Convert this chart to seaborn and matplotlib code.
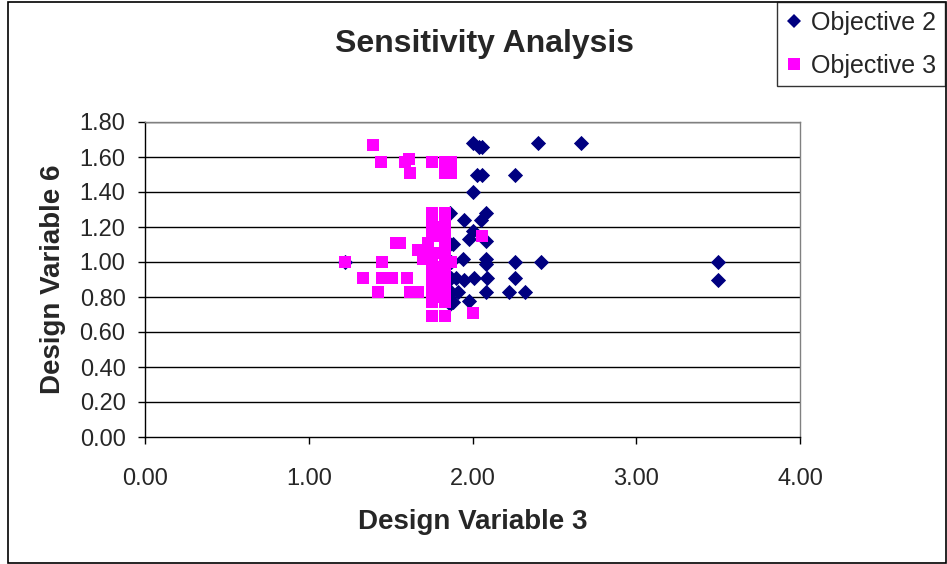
import matplotlib
matplotlib.use("Agg")
import matplotlib.pyplot as plt
import seaborn as sns
import pandas as pd
from matplotlib.patches import Rectangle
from matplotlib.lines import Line2D

# Objective 2 (navy diamonds)
obj2_x = [2.00, 2.04, 2.06, 2.40, 2.66, 2.03, 2.06, 2.26, 2.00, 2.08, 1.95, 2.05,
          2.00, 1.98, 2.08, 1.88, 1.94, 2.08, 2.08, 2.26, 2.42, 1.90, 1.95, 2.01,
          2.09, 2.26, 1.91, 2.08, 2.22, 2.32, 1.98, 1.88, 3.50, 3.50, 1.22, 1.86,
          1.86, 1.87, 1.87, 1.87, 1.86]
obj2_y = [1.68, 1.66, 1.66, 1.68, 1.68, 1.50, 1.50, 1.50, 1.40, 1.28, 1.24, 1.24,
          1.18, 1.13, 1.12, 1.10, 1.02, 1.02, 0.99, 1.00, 1.00, 0.91, 0.90, 0.91,
          0.91, 0.91, 0.83, 0.83, 0.83, 0.83, 0.78, 0.77, 1.00, 0.90, 1.00, 1.28,
          1.10, 1.00, 0.91, 0.83, 0.76]

# Objective 3 (magenta squares)
obj3_x = [1.39, 1.44, 1.61, 1.59, 1.62, 1.75, 1.83, 1.87, 1.83, 1.87,
          1.75, 1.83, 1.75, 1.83, 1.75, 1.83, 2.06, 1.56, 1.73, 1.67, 1.72, 1.83,
          1.70, 1.75, 1.83, 1.87, 1.22, 1.45, 1.33, 1.45, 1.51, 1.60, 1.75, 1.83,
          1.42, 1.62, 1.67, 1.75, 1.83, 1.75, 1.83, 1.75, 1.83, 2.00,
          1.78, 1.78, 1.78, 1.78, 1.80, 1.80, 1.80, 1.80, 1.53,
          1.75, 1.75, 1.75, 1.83, 1.83, 1.83]
obj3_y = [1.67, 1.57, 1.59, 1.57, 1.51, 1.57, 1.57, 1.57, 1.51, 1.51,
          1.28, 1.28, 1.24, 1.23, 1.17, 1.17, 1.15, 1.11, 1.11, 1.07, 1.07, 1.11,
          1.02, 1.02, 1.01, 1.00, 1.00, 1.00, 0.91, 0.91, 0.91, 0.91, 0.90, 0.90,
          0.83, 0.83, 0.83, 0.82, 0.82, 0.77, 0.77, 0.69, 0.69, 0.71,
          1.20, 1.05, 0.95, 0.86, 1.15, 0.97, 0.88, 0.80, 1.11,
          1.05, 0.95, 0.86, 1.05, 0.95, 0.86]

series_names = ["Objective 2", "Objective 3"]
x_ticks = [0.0, 1.0, 2.0, 3.0, 4.0]
y_ticks = [0.0, 0.2, 0.4, 0.6, 0.8, 1.0, 1.2, 1.4, 1.6, 1.8]

df2 = pd.DataFrame({"x": obj2_x, "y": obj2_y})
df3 = pd.DataFrame({"x": obj3_x, "y": obj3_y})

sns.set_style("white")
plt.rcParams["font.family"] = ["Liberation Sans", "DejaVu Sans"]

fig = plt.figure(figsize=(9.47, 5.64), dpi=100)
ax = fig.add_axes([145/947, 1-437/564, (800-145)/947, (437-122)/564])

navy = "#000080"
magenta = "#FF00FF"

sns.scatterplot(data=df2, x="x", y="y", ax=ax, marker="D", s=60, color=navy,
                linewidth=0, zorder=3)
sns.scatterplot(data=df3, x="x", y="y", ax=ax, marker="s", s=82, color=magenta,
                linewidth=0, zorder=4)

ax.set_xlim(0, 4)
ax.set_ylim(0, 1.8)
ax.set_xticks(x_ticks)
ax.set_yticks(y_ticks)
ax.set_xticklabels([f"{v:.2f}" for v in x_ticks])
ax.set_yticklabels([f"{v:.2f}" for v in y_ticks])
ax.tick_params(axis="both", labelsize=17, direction="out", length=5, width=1,
               color="black", left=True, bottom=True)
ax.tick_params(axis="y", pad=9)
ax.tick_params(axis="x", pad=17)
for v in y_ticks[1:]:
    ax.axhline(v, color="black", linewidth=1, zorder=1)

for s in ["top", "right"]:
    ax.spines[s].set_color("#808080")
    ax.spines[s].set_linewidth(1)
for s in ["left", "bottom"]:
    ax.spines[s].set_color("black")
    ax.spines[s].set_linewidth(1)

ax.set_xlabel("Design Variable 3", fontsize=20, fontweight="bold", labelpad=14)
ax.set_ylabel("Design Variable 6", fontsize=20, fontweight="bold", labelpad=10)

fig.text(484/947, 1-44/564, "Sensitivity Analysis", fontsize=23, fontweight="bold",
         ha="center", va="center")

handles = [Line2D([], [], linestyle="none", marker="D", markersize=7, color=navy,
                  markeredgewidth=0),
           Line2D([], [], linestyle="none", marker="s", markersize=8, color=magenta,
                  markeredgewidth=0)]
leg = fig.legend(handles, series_names, loc="upper right",
                 bbox_to_anchor=(945/947, 1-2/564), fontsize=18, frameon=True,
                 fancybox=False, edgecolor="black", handlelength=0.6,
                 handletextpad=0.4, borderpad=0.35, labelspacing=0.75,
                 borderaxespad=0)
leg.get_frame().set_linewidth(1)

fig.patches.append(Rectangle((8/947, 1/564), (946-8)/947, (562-1)/564,
                             transform=fig.transFigure, fill=False,
                             edgecolor="black", linewidth=1.2))

fig.savefig("out.png", dpi=100, facecolor="white")
